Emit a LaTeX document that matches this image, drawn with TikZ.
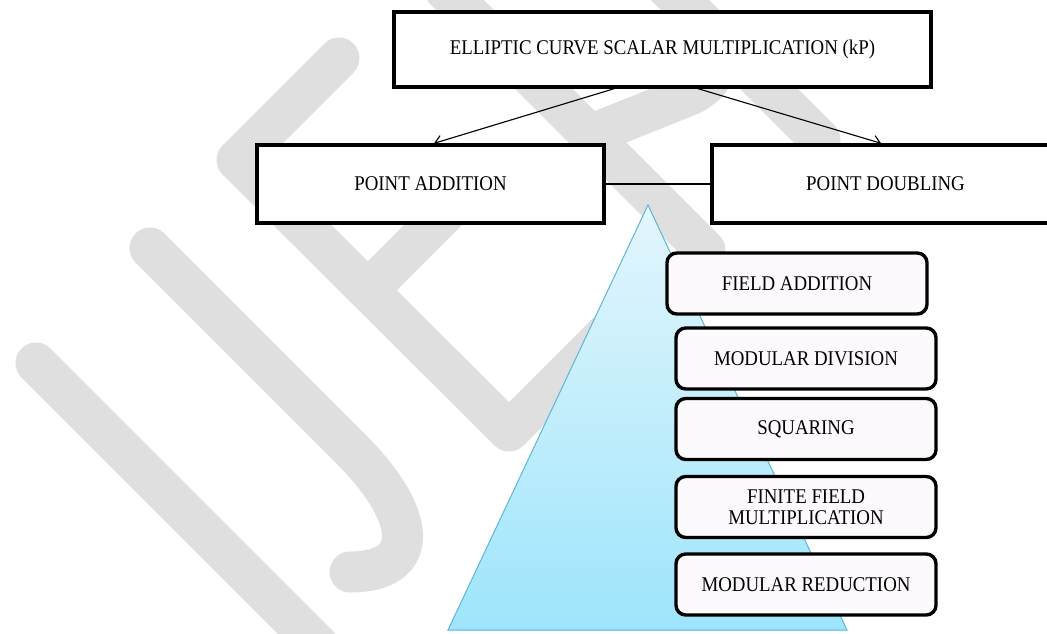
\documentclass[tikz,border=0pt]{standalone}
\usepackage{fontspec}
\setmainfont{Liberation Serif}[FakeStretch=0.9]
\usetikzlibrary{arrows.meta}

\definecolor{wmgray}{RGB}{223,223,223}
\definecolor{pyrtop}{RGB}{228,246,253}
\definecolor{pyrbot}{RGB}{158,229,251}
\definecolor{pyredge}{RGB}{90,180,220}
\definecolor{opfill}{RGB}{253,250,253}

\tikzset{
  boxfont/.style={font=\fontsize{14.9pt}{14.9pt}\selectfont},
  bigbox/.style={boxfont,draw=black,line width=2.4pt,fill=white,inner sep=0pt},
  opbox/.style={boxfont,draw=black,line width=2.4pt,rounded corners=7pt,fill=opfill,
    minimum width=6.5cm,minimum height=1.525cm,inner sep=0pt,align=center},
  wm/.style={wmgray,line width=1.025cm,line cap=round,line join=round},
  arr/.style={-{Straight Barb[length=5pt,width=8pt]},line width=0.8pt},
}

\begin{document}
\begin{tikzpicture}[x=0.025cm,y=-0.025cm]
\useasboundingbox (0,0) rectangle (1047,633);

% watermark letters
\draw[wm] (36,363) -- (345,672);
\draw[wm] (150,248) -- (350,448) .. controls (420,518) and (420,572) .. (350,572);
\draw[wm] (339,58) -- (237,160) -- (509,431) -- (618,322);
\draw[wm] (368,290) -- (445,213);
\draw[wm] (445,-10) -- (705,250);
\draw[wm] (590,135) -- (690,95) .. controls (730,75) and (720,40) .. (690,10) -- (640,-40);
\draw[wm] (660,-20) -- (820,140);
\draw[wm] (1010,-30) ++(200:42) arc[start angle=200,end angle=360,radius=42];

% pyramid
\shade[top color=pyrtop,bottom color=pyrbot,draw=pyredge,line width=0.7pt]
  (648,205) -- (847,630) -- (448,630) -- cycle;

% point arithmetic
\node[bigbox,minimum width=13.425cm,minimum height=1.875cm] (ecsm) at (662.5,49.5)
  {ELLIPTIC CURVE SCALAR MULTIPLICATION (kP)};
\node[bigbox,minimum width=8.675cm,minimum height=1.95cm] (padd) at (430.5,184) {POINT ADDITION};
\node[bigbox,minimum width=8.675cm,minimum height=1.95cm] (pdbl) at (885.5,184) {POINT DOUBLING};

\draw[line width=0.8pt] (padd.east) -- (pdbl.west);
\draw[arr] ([xshift=-1.21cm]ecsm.south) -- ([xshift=0.09cm]padd.north);
\draw[arr] ([xshift=0.89cm]ecsm.south) -- ([xshift=-0.11cm]pdbl.north);

% field arithmetic
\node[opbox] (fadd) at (797,283.5) {FIELD ADDITION};
\node[opbox] (mdiv) at (806,358.5) {MODULAR DIVISION};
\node[opbox] (sqr) at (806,429) {SQUARING};
\node[opbox] (ffm) at (806,507) {FINITE FIELD\\MULTIPLICATION};
\node[opbox] (mred) at (806,584.5) {MODULAR REDUCTION};
\end{tikzpicture}
\end{document}
